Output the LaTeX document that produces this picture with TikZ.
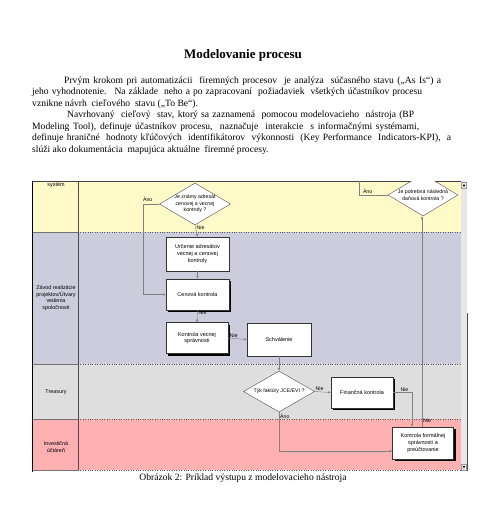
\documentclass[tikz,border=0pt]{standalone}
\usepackage{fontspec}
\setmainfont{Liberation Serif}
\newfontfamily\diafont{Liberation Sans}
\usepackage{xcolor}
\usetikzlibrary{shapes.geometric, arrows.meta, shadows}
\definecolor{laneyellow}{RGB}{255,250,200}
\definecolor{laneblue}{RGB}{204,204,221}
\definecolor{lanegray}{RGB}{222,222,222}
\definecolor{lanepink}{RGB}{255,176,176}
\definecolor{connGray}{RGB}{128,128,128}
\definecolor{barGray}{RGB}{232,232,232}
\tikzset{
  txtline/.style={anchor=base west, inner sep=0pt, font=\fontsize{9.6}{11}\selectfont},
  box/.style={rectangle, draw=black!80, fill=white, line width=0.4pt,
              minimum width=63pt, minimum height=32pt, inner sep=0pt,
              align=center, font=\diafont\fontsize{5.5}{6.6}\selectfont},
  shbox/.style={box, drop shadow={shadow xshift=2pt, shadow yshift=-2pt,
                fill=black, opacity=1}},
  decision/.style={diamond, draw=black!70, fill=white, line width=0.4pt,
                   aspect=1.7, inner sep=-1.5pt, align=center,
                   font=\diafont\fontsize{5.2}{6.4}\selectfont},
  conn/.style={draw=connGray, line width=0.4pt,
               -{Latex[length=2.6pt, width=2.2pt]}},
  lbl/.style={font=\diafont\fontsize{5.2}{6}\selectfont, inner sep=1pt},
  lanelbl/.style={align=center, font=\diafont\fontsize{5.4}{6.4}\selectfont},
}

\begin{document}
\begin{tikzpicture}[x=1pt, y=-1pt]
  \useasboundingbox[fill=white] (0,0) rectangle (502,513);

  % Heading and text
  \node[font=\bfseries\fontsize{13}{15}\selectfont] (title) at (243,55) {Modelovanie procesu};
  \node[txtline] (ln1) at (64,83.2)   {\makebox[377pt][s]{Prvým krokom pri automatizácii \ firemných procesov \ je analýza \ súčasného stavu („As Is“) a}};
  \node[txtline] (ln2) at (32,94.8)   {\makebox[390pt][s]{jeho vyhodnotenie. \ Na základe \ neho a po zapracovaní \ požiadaviek \ všetkých účastníkov procesu}};
  \node[txtline] (ln3) at (32,106.3)  {vznikne návrh \ cieľového \ stavu („To Be“).};
  \node[txtline] (ln4) at (67,117.9)  {\makebox[347pt][s]{Navrhovaný \ cieľový \ stav, ktorý sa zaznamená \ pomocou modelovacieho \ nástroja (BP}};
  \node[txtline] (ln5) at (32,129.4)  {\makebox[387pt][s]{Modeling Tool), definuje účastníkov procesu, \ naznačuje \ interakcie \ s informačnými systémami,}};
  \node[txtline] (ln6) at (32,141.0)  {\makebox[419pt][s]{definuje hraničné \ hodnoty kľúčových \ identifikátorov \ výkonnosti \ (Key Performance \ Indicators-KPI), \ a}};
  \node[txtline] (ln7) at (32,152.5)  {slúži ako dokumentácia \ mapujúca aktuálne \ firemné procesy.};

  % Swimlanes
  \fill[laneyellow] (33,181) rectangle (461,232);
  \fill[laneblue]   (33,232) rectangle (461,364);
  \fill[lanegray]   (33,364) rectangle (461,419);
  \fill[lanepink]   (33,419) rectangle (461,470);
  \foreach \yy in {232,364,419,470}{
    \draw[black!55, line width=0.3pt] (33,\yy) -- (78,\yy);
    \draw[black!65, line width=0.4pt, dotted] (78,\yy) -- (461,\yy);
  }
  \draw[black!70, line width=0.5pt] (78,181) -- (78,470);
  \draw[black!75, line width=0.6pt] (33,181) -- (467,181);
  \draw[black, line width=1.3pt] (32.5,180.5) -- (32.5,472);

  % Scroll bar
  \fill[barGray] (461,181) rectangle (467,471);
  \draw[black!70, line width=0.6pt] (467,313) -- (467,471);
  \draw[black!40, line width=0.3pt, fill=barGray] (461.5,182) rectangle (466.5,188);
  \fill[black] (462.8,186.3) -- (465.2,186.3) -- (464,184) -- cycle;
  \draw[black!40, line width=0.3pt, fill=barGray] (461.5,464) rectangle (466.5,470);
  \fill[black] (462.8,466) -- (465.2,466) -- (464,468.3) -- cycle;

  % Lane names
  \node[lanelbl] (lnSys)   at (56,185) {systém};
  \node[lanelbl] (lnZav)   at (56,298) {Závod realizácie\\projektov/Útvary\\vedenia\\spoločnosti};
  \node[lanelbl] (lnTre)   at (56,392) {Treasury};
  \node[lanelbl] (lnInv)   at (56,447) {Investičná\\účtáreň};

  \begin{scope}
    \clip (79,181.4) rectangle (461,470);
    % Steps
    \node[decision, minimum width=71pt, minimum height=42pt] (dec1) at (195,204)
      {Je známy adresát\\cenovej a vecnej\\kontroly ?};
    \node[box, minimum height=34pt]   (urc)  at (197.5,254)   {Určenie adresátov\\vecnej a cenovej\\kontroly};
    \node[shbox, minimum height=31pt] (cen)  at (197.5,294.5) {Cenová kontrola};
    \node[shbox, minimum width=62pt, minimum height=31pt] (vec) at (197,338) {Kontrola vecnej\\správnosti};
    \node[box, minimum width=64pt, minimum height=33pt]   (sch) at (279,339.5) {Schválenie};
    \node[decision, minimum width=71pt, minimum height=41pt] (dec2) at (279,391.5)
      {Týk faktúry JCE/EVI ?};
    \node[shbox, minimum width=62pt, minimum height=31pt] (fin) at (362,392.5) {Finančná kontrola};
    \node[shbox, minimum width=61pt, minimum height=32pt] (frm) at (423,443)
      {Kontrola formálnej\\správnosti a\\preúčtovanie};
    \node[decision, minimum width=70pt, minimum height=42pt] (dec3) at (423,195)
      {Je potrebná následná\\daňová kontrola ?};

    % Connectors
    \coordinate (inTop) at (195,181);
    \coordinate (outTop) at (359,181);
    \draw[conn] (inTop) -- (dec1.north);
    \draw[conn] (dec1.west) -- node[lbl, pos=0.7, above=1pt] {Áno} ++(-16.5,0) |- (cen.west);
    \draw[conn] (dec1.south) -- node[lbl, pos=0.2, right] {Nie} (urc.north);
    \draw[conn] (urc.south) -- (cen.north);
    \draw[conn] (cen.south) -- node[lbl, pos=0.2, right] {Nie} (vec.north);
    \draw[conn] (vec.east) -- node[lbl, pos=0.3, above] {Nie} (sch.west);
    \draw[conn] (sch.south) -- (dec2.north);
    \draw[conn] (dec2.east) -- node[lbl, pos=0.3, above] {Nie} (fin.west);
    \draw[conn] (fin.east) -| node[lbl, pos=0.3, above] {Nie} ([xshift=-11pt]frm.north);
    \draw[conn] (dec2.south) |- node[lbl, pos=0.05, right] {Áno} ([yshift=-8pt]frm.west);
    \draw[conn] ([xshift=-1pt]frm.north) -- node[lbl, pos=0.03, right] {Nie} ([xshift=-1pt]dec3.south);
    \draw[draw=connGray, line width=0.4pt] (dec3.west) -| node[lbl, pos=0.35, above] {Áno} (outTop);
  \end{scope}

  % Caption
  \node[font=\fontsize{9.6}{11}\selectfont] (caption) at (243,478)
    {Obrázok 2: Príklad výstupu z modelovacieho nástroja};
\end{tikzpicture}
\end{document}
